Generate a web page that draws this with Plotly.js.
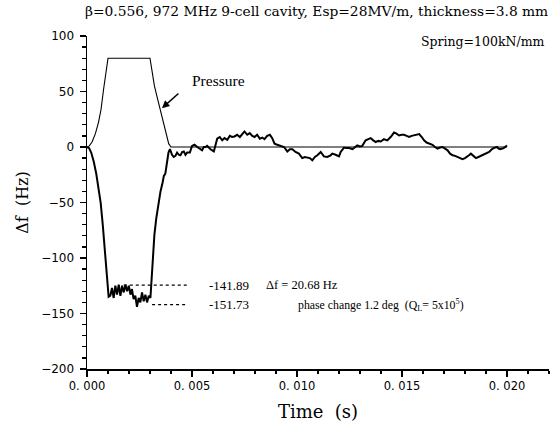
<!DOCTYPE html>
<html>
<head>
<meta charset="utf-8">
<script src="https://cdn.plot.ly/plotly-3.0.1.min.js"></script>
<style>html,body{margin:0;padding:0;background:#fff;}#chart{width:556px;height:426px;}</style>
</head>
<body>
<div id="chart"></div>
<script>
// ---- data (time in ms, converted to seconds for the axis) ----
const pressureTimeMs = [0, 0.11, 0.24, 0.40, 0.55, 0.67, 0.79, 0.89, 1.00, 3.00, 3.10, 3.21, 3.34, 3.46, 3.58, 3.69, 3.78, 3.89, 4.00, 20.0];
const pressureHz = [0, 1, 4.5, 12, 22.5, 34, 52, 67, 80, 80, 67, 55, 45, 36, 27, 18, 10.4, 3, 0, 0];

const dfTimeMs = [
  0, 0.10, 0.20, 0.32, 0.44, 0.55, 0.65, 0.75, 0.85, 0.93, 0.98, 1.03,
  1.11, 1.19, 1.27, 1.35, 1.43, 1.51, 1.59, 1.67, 1.75, 1.83, 1.91, 1.99, 2.07, 2.14,
  2.22, 2.30, 2.38, 2.46, 2.54, 2.62, 2.70, 2.78, 2.86, 2.94, 3.02,
  3.06, 3.10, 3.21, 3.30, 3.42, 3.50, 3.60, 3.66, 3.73, 3.80, 3.88, 3.95,
  4.05, 4.13, 4.21, 4.29, 4.37, 4.45, 4.53, 4.61, 4.69, 4.77, 4.90, 5.00, 5.12, 5.25,
  5.37, 5.48, 5.56, 5.64, 5.72, 5.88, 6.04, 6.12, 6.20, 6.32, 6.44, 6.55, 6.68, 6.80,
  6.91, 7.02, 7.15, 7.28, 7.39, 7.50, 7.63, 7.75, 7.87, 7.98, 8.10, 8.23, 8.35, 8.45,
  8.58, 8.71, 8.82, 8.93, 9.06, 9.18, 9.30, 9.38, 9.54, 9.66, 9.78, 9.93, 10.09, 10.25,
  10.37, 10.49, 10.61, 10.73, 10.85, 10.97, 11.13, 11.28, 11.44, 11.60, 11.68, 11.84,
  12.00, 12.08, 12.24, 12.36, 12.48, 12.64, 12.75, 12.87, 13.00, 13.11, 13.27, 13.39,
  13.51, 13.63, 13.75, 13.87, 13.99, 14.14, 14.30, 14.46, 14.62, 14.74, 14.86, 14.98,
  15.10, 15.22, 15.34, 15.46, 15.58, 15.70, 15.82, 15.94, 16.05, 16.17, 16.29, 16.45,
  16.57, 16.69, 16.81, 16.93, 17.05, 17.17, 17.29, 17.41, 17.53, 17.64, 17.76, 17.88,
  18.00, 18.09, 18.19, 18.28, 18.40, 18.52, 18.64, 18.76, 18.88, 18.99, 19.15, 19.25,
  19.36, 19.52, 19.60, 19.68, 19.84, 20.00
];
const dfHz = [
  0, -1, -5, -13, -24, -37, -50, -70, -95, -112, -126, -135,
  -134, -127, -136, -125, -133, -124, -134, -125, -131, -124, -130, -125, -133, -128,
  -137, -134, -144, -136, -140, -131, -139, -133, -140, -134, -136,
  -124, -109, -79, -64, -49, -40, -32, -26, -24, -15, -5, -2,
  -7, -9, -8, -5, -7, -7.5, -4.5, -4, -7, -5, -5, 1, 2, 0,
  -2, -3, 0, 0, 1, -2, -4, 1, 7.5, 9, 6, 8, 6.5, 10,
  9, 9.5, 11, 9, 12, 14, 11, 12.5, 10, 9, 11, 7.5, 8.5, 7,
  10, 11, 8, 3, 2, 1.4, 1, 0, -4, -2, -2, -4.5, -6, -10,
  -9, -9.5, -10, -12, -9, -7.5, -4.5, -8.5, -9, -7.5, -6, -7,
  -8.5, -4.5, -0.5, -1, -1, -2, 0, 1.4, 0.5, 1, 6, 7,
  8, 6, 4.5, 5.5, 5, 7, 6, 9, 13, 12, 10.4, 11,
  11, 10, 9, 10, 10.4, 11, 11.7, 9, 6, 4, 3, 2,
  0, -1.5, -0.5, 0, -1.5, -3, -6, -7.5, -8, -9, -10, -11,
  -10, -9, -7.5, -6, -8, -10, -9, -8, -7, -6, -4.5, -2.5,
  -1, 0, -1.5, -2, -1, 1.4
];

// dotted marker levels (as drawn) and their span in ms
const levelUpperHz = -124.5, levelUpperSpanMs = [1.75, 4.77];
const levelLowerHz = -142, levelLowerSpanMs = [3.10, 4.77];

const xTickVals = [0, 0.005, 0.010, 0.015, 0.020];
const xTickText = ['0. 000', '0. 005', '0. 010', '0. 015', '0. 020'];
const yTickVals = [100, 50, 0, -50, -100, -150, -200];

const ms = a => a.map(t => t / 1000);

const traces = [
  {x: ms(pressureTimeMs), y: pressureHz, mode: 'lines', line: {color: '#000', width: 1.1}, hoverinfo: 'skip'},
  {x: ms(dfTimeMs), y: dfHz, mode: 'lines', line: {color: '#000', width: 2}, hoverinfo: 'skip'},
  {x: ms(levelUpperSpanMs), y: [levelUpperHz, levelUpperHz], mode: 'lines', line: {color: '#000', width: 1.2, dash: 'dot'}},
  {x: ms(levelLowerSpanMs), y: [levelLowerHz, levelLowerHz], mode: 'lines', line: {color: '#000', width: 1.2, dash: 'dot'}}
];

const serif = 'DejaVu Serif, serif';
const txt = 'Liberation Serif, Times New Roman, serif';

const layout = {
  width: 556, height: 426,
  margin: {l: 87, r: 7, t: 36, b: 57},
  paper_bgcolor: '#fff', plot_bgcolor: '#fff',
  showlegend: false,
  xaxis: {
    range: [0, 0.022], showgrid: false, zeroline: false,
    showline: true, linecolor: '#000', linewidth: 1.5,
    ticks: 'outside', ticklen: 6, tickwidth: 1.5, tickcolor: '#000',
    tickvals: xTickVals, ticktext: xTickText,
    tickfont: {family: 'DejaVu Sans, sans-serif', size: 11.5, color: '#000'},
    minor: {dtick: 0.001, ticks: 'outside', ticklen: 3.5, tickwidth: 1.3, tickcolor: '#000', showgrid: false},
    title: {text: 'Time\u00a0\u00a0(s)', font: {family: serif, size: 18, color: '#000'}, standoff: 13}
  },
  yaxis: {
    range: [-200, 100], showgrid: false, zeroline: false,
    showline: true, linecolor: '#000', linewidth: 1.5,
    ticks: 'outside', ticklen: 6, tickwidth: 1.5, tickcolor: '#000',
    tickvals: yTickVals, ticklabelstandoff: 3,
    tickfont: {family: 'DejaVu Sans, sans-serif', size: 12, color: '#000'},
    minor: {dtick: 10, ticks: 'outside', ticklen: 3.5, tickwidth: 1.3, tickcolor: '#000', showgrid: false},
    title: {text: '\u0394f\u00a0\u00a0(Hz)', font: {family: serif, size: 16, color: '#000'}, standoff: 8}
  },
  annotations: [
    {xref: 'paper', yref: 'paper', x: 1.002, y: 1.045, xanchor: 'right', yanchor: 'bottom', showarrow: false,
     text: '\u03b2=0.556, 972 MHz 9-cell cavity, Esp=28MV/m, thickness=3.8 mm', font: {family: serif, size: 13.8, color: '#000'}},
    {xref: 'paper', yref: 'paper', x: 0.993, y: 0.982, xanchor: 'right', yanchor: 'middle', showarrow: false,
     text: 'Spring=100kN/mm', font: {family: serif, size: 12.5, color: '#000'}},
    {xref: 'x', yref: 'y', x: 0.00628, y: 60, xanchor: 'center', yanchor: 'middle', showarrow: false,
     text: 'Pressure', font: {family: txt, size: 15.5, color: '#000'}},
    {xref: 'x', yref: 'y', x: 0.00357, y: 35, showarrow: true, text: '', arrowhead: 2, arrowsize: 1, arrowwidth: 1.5, arrowcolor: '#000', ax: 18, ay: -16, standoff: 0},
    {xref: 'x', yref: 'y', x: 0.00677, y: levelUpperHz, xanchor: 'center', yanchor: 'middle', showarrow: false,
     text: '-141.89', font: {family: txt, size: 13, color: '#000'}},
    {xref: 'x', yref: 'y', x: 0.00677, y: levelLowerHz, xanchor: 'center', yanchor: 'middle', showarrow: false,
     text: '-151.73', font: {family: txt, size: 13, color: '#000'}},
    {xref: 'x', yref: 'y', x: 0.00845, y: levelUpperHz, xanchor: 'left', yanchor: 'middle', showarrow: false,
     text: '\u0394f = 20.68 Hz', font: {family: txt, size: 12.5, color: '#000'}},
    {xref: 'x', yref: 'y', x: 0.00993, y: levelLowerHz, xanchor: 'left', yanchor: 'middle', showarrow: false,
     text: 'phase change 1.2 deg  (Q<sub>L</sub>= 5x10<sup>5</sup>)', font: {family: txt, size: 11.8, color: '#000'}}
  ]
};

Plotly.newPlot('chart', traces, layout, {staticPlot: true, displayModeBar: false});
</script>
</body>
</html>
